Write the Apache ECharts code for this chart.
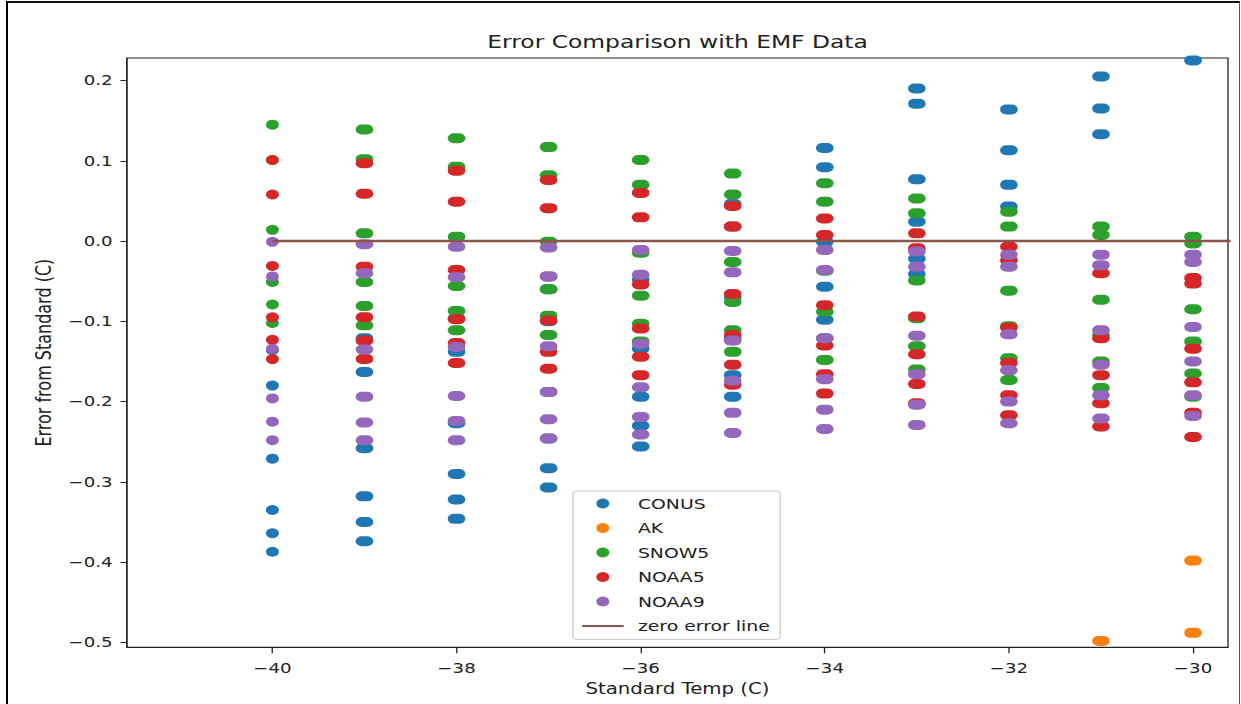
<!DOCTYPE html>
<html>
<head>
<meta charset="utf-8">
<script src="https://cdn.jsdelivr.net/npm/echarts@6/dist/echarts.min.js"></script>
<style>
  html, body { margin: 0; padding: 0; background: #fff; overflow: hidden; }
  #stage { position: relative; width: 1241px; height: 704px; overflow: hidden; }
  /* the figure is drawn in a narrower box and widened horizontally */
  #chart { position: absolute; left: 0; top: 0; width: 955px; height: 704px;
           transform: scaleX(1.29948); transform-origin: 0 0; }
  #frame { position: absolute; left: 6px; top: 1px; width: 1234px; height: 720px;
           box-sizing: border-box; border-left: 2px solid #000; border-top: 2px solid #111;
           border-right: 1px solid #555; pointer-events: none; }
</style>
</head>
<body>
<div id="stage">
  <div id="chart"></div>
  <div id="frame"></div>
</div>
<script>
// Standard temperatures (C), one column of readings per temperature
const temps = [-40, -39, -38, -37, -36, -35, -34, -33, -32, -31, -30];

// Error from standard (C) for each thermometer, grouped by temperature
const conusVals = [
  [-0.136, -0.180, -0.271, -0.335, -0.364, -0.387],
  [-0.121, -0.163, -0.258, -0.318, -0.350, -0.374],
  [-0.096, -0.138, -0.227, -0.290, -0.322, -0.346],
  [-0.060, -0.100, -0.188, -0.246, -0.283, -0.307],
  [-0.048, -0.134, -0.194, -0.230, -0.256],
  [0.046, 0.018, -0.070, -0.121, -0.167, -0.194],
  [0.116, 0.092, -0.001, -0.057, -0.098],
  [0.190, 0.171, 0.077, 0.024, -0.022, -0.041],
  [0.164, 0.113, 0.070, 0.043],
  [0.205, 0.165, 0.133],
  [0.225]
];
const akVals = [
  [], [], [], [], [], [], [], [], [],
  [-0.498],
  [-0.398, -0.488]
];
const snow5Vals = [
  [0.145, 0.101, 0.014, -0.051, -0.079, -0.102],
  [0.139, 0.102, 0.0096, -0.051, -0.081, -0.105],
  [0.128, 0.0925, 0.0054, -0.056, -0.087, -0.111],
  [0.117, 0.082, -0.001, -0.060, -0.093, -0.117],
  [0.101, 0.070, -0.0146, -0.068, -0.103, -0.125],
  [0.084, 0.058, -0.026, -0.076, -0.111, -0.138],
  [0.072, 0.049, -0.037, -0.088, -0.121, -0.148],
  [0.053, 0.0345, -0.049, -0.096, -0.131, -0.160],
  [0.0365, 0.018, -0.062, -0.106, -0.146, -0.173],
  [0.018, 0.0075, -0.073, -0.117, -0.150, -0.183],
  [0.0054, -0.003, -0.085, -0.125, -0.165, -0.194]
];
const noaa5Vals = [
  [0.101, 0.058, -0.031, -0.095, -0.123, -0.147],
  [0.097, 0.059, -0.032, -0.095, -0.124, -0.147],
  [0.0875, 0.049, -0.036, -0.0975, -0.127, -0.152],
  [0.076, 0.041, -0.044, -0.099, -0.138, -0.159],
  [0.060, 0.0295, -0.054, -0.109, -0.144, -0.167],
  [0.0436, 0.018, -0.066, -0.117, -0.154, -0.179],
  [0.028, 0.0075, -0.080, -0.130, -0.166, -0.190],
  [0.0096, -0.009, -0.094, -0.141, -0.178, -0.202],
  [-0.007, -0.024, -0.108, -0.152, -0.192, -0.217],
  [-0.040, -0.121, -0.167, -0.202, -0.231],
  [-0.046, -0.053, -0.134, -0.176, -0.214, -0.244]
];
const noaa9Vals = [
  [-0.001, -0.044, -0.134, -0.196, -0.225, -0.248],
  [-0.004, -0.040, -0.135, -0.194, -0.226, -0.248],
  [-0.007, -0.045, -0.132, -0.193, -0.224, -0.248],
  [-0.008, -0.044, -0.131, -0.188, -0.222, -0.246],
  [-0.011, -0.042, -0.128, -0.182, -0.219, -0.241],
  [-0.0125, -0.039, -0.124, -0.174, -0.214, -0.239],
  [-0.011, -0.036, -0.121, -0.172, -0.210, -0.234],
  [-0.013, -0.032, -0.118, -0.166, -0.204, -0.229],
  [-0.017, -0.032, -0.116, -0.161, -0.200, -0.227],
  [-0.017, -0.030, -0.111, -0.154, -0.192, -0.221],
  [-0.017, -0.026, -0.107, -0.150, -0.192, -0.218]
];

// Reference line at zero error
const zeroLineX = [-40, -29.5];
const zeroLineY = [0, 0];

// Axis ticks
const xTicks = [-40, -38, -36, -34, -32, -30];
const yTicks = [-0.5, -0.4, -0.3, -0.2, -0.1, 0.0, 0.1, 0.2];

const seriesNames = ['CONUS', 'AK', 'SNOW5', 'NOAA5', 'NOAA9'];
const seriesColors = ['#1f77b4', '#ff7f0e', '#2ca02c', '#d62728', '#9467bd'];
const seriesVals = [conusVals, akVals, snow5Vals, noaa5Vals, noaa9Vals];

// repeated readings after the first temperature sit side by side, giving a wider mark
const pairMark = 'path://M5,0 L9,0 A5,5 0 0 1 9,10 L5,10 A5,5 0 0 1 5,0 Z';

function toPoints(cols) {
  const pts = [];
  cols.forEach((col, i) => {
    const t = temps[i];
    col.forEach(v => {
      const single = (i === 0);
      pts.push({
        value: [t, v],
        symbol: single ? 'circle' : pairMark,
        symbolSize: single ? 10 : [13.6, 10]
      });
    });
  });
  return pts;
}

const minus = '\u2212';
const fmt1 = v => (v < -1e-9 ? minus : '') + Math.abs(v).toFixed(1);
const fmt0 = v => (v < 0 ? minus : '') + Math.abs(v).toFixed(0);

const font = 'DejaVu Sans';
const ink = '#222';

const series = seriesNames.map((name, k) => ({
  name: name,
  type: 'scatter',
  data: toPoints(seriesVals[k]),
  itemStyle: { color: seriesColors[k], opacity: 1 },
  z: 2 + k * 0.01
}));
series.push({
  name: 'zero error line',
  type: 'line',
  data: zeroLineX.map((x, i) => [x, zeroLineY[i]]),
  symbol: 'none',
  lineStyle: { color: '#8c564b', width: 2.5 },
  itemStyle: { color: '#8c564b' },
  clip: true,
  z: 5
});

const chart = echarts.init(document.getElementById('chart'), null, { renderer: 'svg' });
chart.setOption({
  animation: false,
  backgroundColor: '#fff',
  textStyle: { fontFamily: font },
  title: {
    text: 'Error Comparison with EMF Data',
    left: 521.4,
    textAlign: 'center',
    top: 33,
    padding: 0,
    textStyle: { fontFamily: font, fontSize: 18, fontWeight: 'normal', color: ink }
  },
  grid: {
    left: 97.7, right: 10, top: 58, bottom: 56.7,
    show: true, borderColor: ink, borderWidth: 1, backgroundColor: 'transparent'
  },
  legend: {
    orient: 'vertical',
    left: 440.9,
    top: 491,
    padding: [5, 8, 6, 6],
    itemGap: 9.5,
    itemWidth: 32,
    itemHeight: 10,
    backgroundColor: 'rgba(255,255,255,0.8)',
    borderColor: '#cccccc',
    borderWidth: 1,
    borderRadius: 3,
    textStyle: { fontFamily: font, fontSize: 14.5, color: ink, padding: [0, 0, 0, 6] },
    data: seriesNames.map(n => ({ name: n, icon: 'circle' }))
      .concat([{ name: 'zero error line', itemStyle: { opacity: 0 } }])
  },
  xAxis: {
    type: 'value',
    min: -41.58,
    max: -29.62,
    name: 'Standard Temp (C)',
    nameLocation: 'middle',
    nameGap: 34,
    nameTextStyle: { fontFamily: font, fontSize: 15.2, color: ink },
    axisLine: { show: true, onZero: false, lineStyle: { color: ink, width: 1 } },
    axisTick: { show: true, length: 6, lineStyle: { color: ink }, customValues: xTicks },
    axisLabel: { fontFamily: font, fontSize: 14, color: ink, margin: 14, customValues: xTicks, formatter: fmt0 },
    splitLine: { show: false }
  },
  yAxis: {
    type: 'value',
    min: -0.506,
    max: 0.228,
    name: 'Error from Standard (C)',
    nameLocation: 'middle',
    nameGap: 53,
    nameTextStyle: { fontFamily: font, fontSize: 16, color: ink },
    axisLine: { show: true, onZero: false, lineStyle: { color: ink, width: 1 } },
    axisTick: { show: true, length: 5, lineStyle: { color: ink }, customValues: yTicks },
    axisLabel: { fontFamily: font, fontSize: 14, color: ink, margin: 11, customValues: yTicks, formatter: fmt1 },
    splitLine: { show: false }
  },
  series: series
});
</script>
</body>
</html>
